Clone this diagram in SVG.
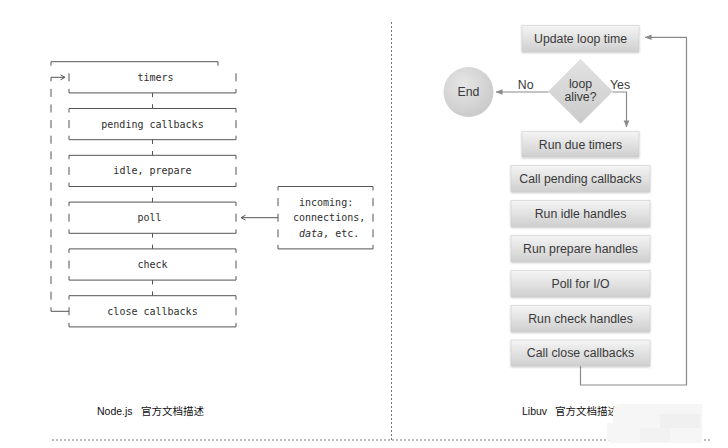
<svg xmlns="http://www.w3.org/2000/svg" width="728" height="448" viewBox="0 0 728 448">
<style>
.ln{fill:none;stroke:#555;stroke-width:1}
.mono{font-family:"DejaVu Sans Mono","Liberation Mono",monospace;font-size:10px;fill:#2e2e2e}
.lbl{font-family:"Liberation Sans",Arial,sans-serif;font-size:12.3px;fill:#3a3a3a;text-anchor:middle}
.cap{font-family:"Liberation Sans","Noto Sans CJK SC",sans-serif;font-size:10.5px;fill:#111}
.con{fill:none;stroke:#8a8a8a;stroke-width:1.2}
.sep{fill:none;stroke:#777;stroke-width:1;stroke-dasharray:2 2}
.bx{fill:url(#gb);stroke:#c8c8c8;stroke-width:0.5;filter:url(#sh)}
</style>
<defs>
<linearGradient id="gb" x1="0" y1="0" x2="0" y2="1">
<stop offset="0" stop-color="#f5f5f5"/>
<stop offset="1" stop-color="#cfcfcf"/>
</linearGradient>
<linearGradient id="gd" x1="0" y1="0" x2="0" y2="1">
<stop offset="0" stop-color="#e2e2e2"/>
<stop offset="1" stop-color="#cbcbcb"/>
</linearGradient>
<radialGradient id="gc" cx="0.4" cy="0.35" r="0.7">
<stop offset="0" stop-color="#e6e6e6"/>
<stop offset="1" stop-color="#c9c9c9"/>
</radialGradient>
<filter id="sh" x="-10%" y="-20%" width="120%" height="150%">
<feDropShadow dx="0" dy="1" stdDeviation="0.8" flood-color="#000" flood-opacity="0.25"/>
</filter>
<marker id="ah" viewBox="0 0 8 8" refX="7.5" refY="4" markerWidth="7" markerHeight="7" markerUnits="userSpaceOnUse" orient="auto">
<path d="M0,0.8 L8,4 L0,7.2 z" fill="#8a8a8a"/>
</marker>
</defs>
<rect width="728" height="448" fill="#fff"/>

<!-- separators -->
<g id="separators">
<path class="sep" d="M391.5 22 V440"/>
<path class="sep" d="M52 440 H712"/>
</g>

<!-- Left: Node.js ASCII diagram -->
<g id="n-timers">
<path class="ln" d="M51 65.7 V61.7 H218 V65.7 M69 73.3 V81.3 M236 73.3 V81.3 M69 88.9 V92.9 H236 V88.9"/>
<text class="mono" x="155.5" y="80.8" text-anchor="middle">timers</text>
</g>
<g id="n-pending">
<path class="ln" d="M69 112.5 V108.5 H236 V112.5 M69 120.1 V128.1 M236 120.1 V128.1 M69 135.7 V139.7 H236 V135.7"/>
<text class="mono" x="152.5" y="127.6" text-anchor="middle">pending callbacks</text>
</g>
<g id="n-idle">
<path class="ln" d="M69 159.3 V155.3 H236 V159.3 M69 166.9 V174.9 M236 166.9 V174.9 M69 182.5 V186.5 H236 V182.5"/>
<text class="mono" x="152.5" y="174.4" text-anchor="middle">idle, prepare</text>
</g>
<g id="n-poll">
<path class="ln" d="M69 206.1 V202.1 H236 V206.1 M69 213.7 V221.7 M236 213.7 V221.7 M69 229.3 V233.3 H236 V229.3"/>
<text class="mono" x="149.5" y="221.2" text-anchor="middle">poll</text>
</g>
<g id="n-check">
<path class="ln" d="M69 252.9 V248.9 H236 V252.9 M69 260.5 V268.5 M236 260.5 V268.5 M69 276.1 V280.1 H236 V276.1"/>
<text class="mono" x="152.5" y="268" text-anchor="middle">check</text>
</g>
<g id="n-close">
<path class="ln" d="M69 299.7 V295.7 H236 V299.7 M69 307.3 V315.3 M236 307.3 V315.3 M69 322.9 V326.9 H236 V322.9"/>
<text class="mono" x="152.5" y="314.8" text-anchor="middle">close callbacks</text>
</g>
<g id="n-incoming">
<path class="ln" d="M278 190.5 V186.5 H373 V190.5 M278 198.1 V206.1 M373 198.1 V206.1 M278 213.7 V221.7 M373 213.7 V221.7 M278 229.3 V237.3 M373 229.3 V237.3 M278 244.9 V248.9 H373 V244.9"/>
<text class="mono" x="299" y="205.6">incoming:</text>
<text class="mono" x="293" y="221.2">connections,</text>
<text class="mono" x="299" y="236.8"><tspan font-style="italic">data</tspan>, etc.</text>
</g>

<!-- Right: libuv flowchart -->
<g id="r-update"><rect class="bx" x="522" y="25.5" width="117" height="26"/><text class="lbl" x="580.5" y="42.8">Update loop time</text></g>
<g id="r-alive"><polygon points="580.5,59.5 612.5,91.5 580.5,123.5 548.5,91.5" fill="url(#gd)" stroke="#d0d0d0" stroke-width="0.5" stroke-linejoin="round"/><text class="lbl" x="580.5" y="87.6">loop</text><text class="lbl" x="580.5" y="101">alive?</text></g>
<g id="r-end"><circle cx="468.5" cy="92" r="25" fill="url(#gc)"/><text class="lbl" x="468.5" y="96.3">End</text></g>
<g id="r-timers"><rect class="bx" x="522" y="131.5" width="117" height="25.5"/><text class="lbl" x="580.5" y="148.6">Run due timers</text></g>
<g id="r-pending"><rect class="bx" x="511" y="165.5" width="139" height="26"/><text class="lbl" x="580.5" y="182.8">Call pending callbacks</text></g>
<g id="r-idle"><rect class="bx" x="511" y="200.5" width="139" height="26"/><text class="lbl" x="580.5" y="217.8">Run idle handles</text></g>
<g id="r-prepare"><rect class="bx" x="511" y="235.5" width="139" height="26"/><text class="lbl" x="580.5" y="252.8">Run prepare handles</text></g>
<g id="r-poll"><rect class="bx" x="511" y="270.5" width="139" height="26"/><text class="lbl" x="580.5" y="287.8">Poll for I/O</text></g>
<g id="r-check"><rect class="bx" x="511" y="305.5" width="139" height="26"/><text class="lbl" x="580.5" y="322.8">Run check handles</text></g>
<g id="r-close"><rect class="bx" x="511" y="340" width="139" height="26"/><text class="lbl" x="580.5" y="357.3">Call close callbacks</text></g>

<!-- connectors -->
<g id="connectors">
<path class="ln" d="M152.5 92.9 V97.2 M152.5 104.2 V108.5 M152.5 139.7 V144 M152.5 151 V155.3 M152.5 186.5 V190.8 M152.5 197.8 V202.1 M152.5 233.3 V237.6 M152.5 244.6 V248.9 M152.5 280.1 V284.4 M152.5 291.4 V295.7"/>
<path class="ln" d="M64 77.3 H51 V81.3 M60.5 74.8 L65 77.3 L60.5 79.8"/>
<path class="ln" d="M51 88.9 V96.9 M51 104.5 V112.5 M51 120.1 V128.1 M51 135.7 V143.7 M51 151.3 V159.3 M51 166.9 V174.9 M51 182.5 V190.5 M51 198.1 V206.1 M51 213.7 V221.7 M51 229.3 V237.3 M51 244.9 V252.9 M51 260.5 V268.5 M51 276.1 V284.1 M51 291.7 V299.7 M51 307.3 V311.3 H69"/>
<path class="ln" d="M278 217.7 H242 M245.5 215.2 L241 217.7 L245.5 220.2"/>
<path class="con" d="M548.5 92 H496" marker-end="url(#ah)"/>
<path class="con" d="M612.5 92 H626.5 V127" marker-end="url(#ah)"/>
<path class="con" d="M580.5 366 V385 H686.5 V37.3 H645" marker-end="url(#ah)"/>
</g>
<text class="lbl" x="525.7" y="88.5">No</text>
<text class="lbl" x="620" y="88.5">Yes</text>

<!-- captions -->
<text class="cap" y="415"><tspan x="97">Node.js</tspan><tspan x="141">官方文档描述</tspan></text>
<text class="cap" y="415"><tspan x="522">Libuv</tspan><tspan x="555">官方文档描述</tspan></text>

<!-- watermark patch -->
<path d="M620 404 H702 V443 H614 Q607 443 607 436 V423 H613 V411 Q613 404 620 404 Z" fill="#f6f6f6"/>
<rect x="660" y="414" width="40" height="14" fill="#f0f0f0"/>
<rect x="640" y="428" width="30" height="14" fill="#f2f2f2"/>
</svg>
